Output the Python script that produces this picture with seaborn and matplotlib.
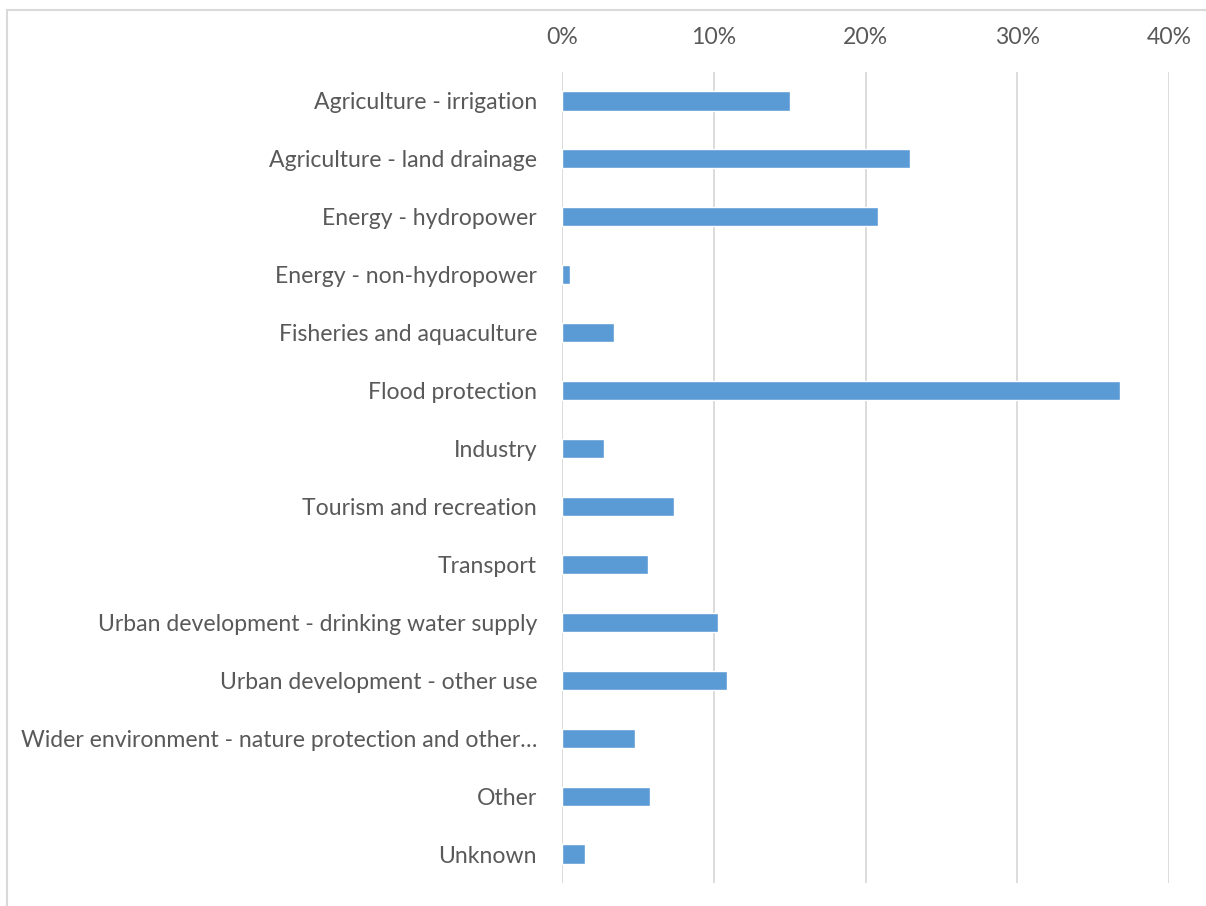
import matplotlib
matplotlib.use("Agg")
import matplotlib.pyplot as plt
import matplotlib.patches as mpatches
from matplotlib.ticker import PercentFormatter
import pandas as pd
import seaborn as sns

# data
categories = [
    "Agriculture - irrigation",
    "Agriculture - land drainage",
    "Energy - hydropower",
    "Energy - non-hydropower",
    "Fisheries and aquaculture",
    "Flood protection",
    "Industry",
    "Tourism and recreation",
    "Transport",
    "Urban development - drinking water supply",
    "Urban development - other use",
    "Wider environment - nature protection and other\u2026",
    "Other",
    "Unknown",
]
shares = [15.0, 22.9, 20.8, 0.5, 3.4, 36.8, 2.8, 7.4, 5.7, 10.3, 10.9, 4.8, 5.8, 1.5]
ticks = [0, 10, 20, 30, 40]

df = pd.DataFrame({"category": categories, "share": shares})

sns.set_style("white")
plt.rcParams["font.family"] = ["Lato", "DejaVu Sans"]

text_col = "#595959"
fig = plt.figure(figsize=(12.06, 9.06), dpi=100)
ax = fig.add_axes([562 / 1206, 23 / 906, 607 / 1206, 811 / 906])

sns.barplot(data=df, x="share", y="category", color="#5B9BD5", width=0.33,
            saturation=1, ax=ax)

ax.set_xlim(0, 40)
ax.set_xticks(ticks)
ax.xaxis.set_major_formatter(PercentFormatter(decimals=0))
ax.xaxis.tick_top()
ax.grid(axis="x", color="#D9D9D9", linewidth=1.3)
ax.set_axisbelow(True)
for s in ax.spines.values():
    s.set_visible(False)

ax.tick_params(axis="x", length=0, pad=17, labelsize=16.6, labelcolor=text_col)
ax.tick_params(axis="y", length=0, pad=18, labelsize=16.6, labelcolor=text_col)
ax.set_xlabel("")
ax.set_ylabel("")

# light frame around the chart area like the spreadsheet export
fig.patches.append(mpatches.Rectangle((7 / 1206, -0.05), 1.2, 1.05 - 10 / 906,
                                      transform=fig.transFigure,
                                      fill=False, edgecolor="#D9D9D9", linewidth=1.5))

fig.savefig("out.png", dpi=100)
